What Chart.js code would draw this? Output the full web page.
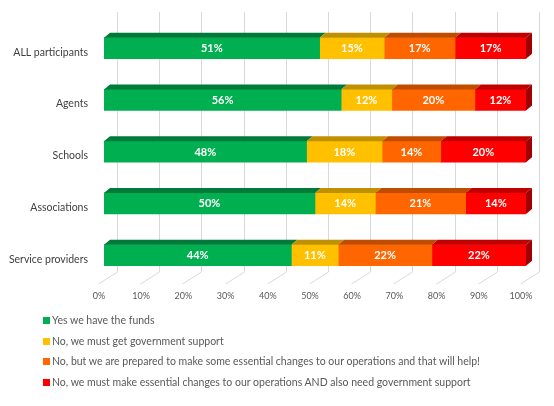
<!DOCTYPE html>
<html>
<head>
<meta charset="utf-8">
<script src="https://cdn.jsdelivr.net/npm/chart.js@4/dist/chart.umd.min.js"></script>
<style>
  html, body { margin: 0; padding: 0; background: #fff; }
  #wrap { position: relative; width: 554px; height: 406px; }
  #legend { position: absolute; left: 43px; top: 310px; font-family: Lato, sans-serif; font-size: 10.5px; color: #595959; }
  #legend div { height: 20.7px; line-height: 20.7px; white-space: nowrap; }
  #legend span { display: inline-block; width: 7px; height: 7px; margin-right: 2px; }
</style>
</head>
<body>
<div id="wrap">
  <canvas id="myChart" width="554" height="406"></canvas>
  <div id="legend"></div>
</div>
<script>
const categories = ["ALL participants", "Agents", "Schools", "Associations", "Service providers"];
const seriesNames = [
    "Yes we have the funds",
    "No, we must get government support",
    "No, but we are prepared to make some essential changes to our operations and that will help!",
    "No, we must make essential changes to our operations AND also need government support"
];
const haveFunds = [51.1, 56.2, 48.0, 50.0, 44.4];
const needSupport = [15.3, 12.0, 17.9, 14.3, 11.1];
const willChange = [16.8, 19.7, 13.9, 21.4, 22.2];
const changeAndSupport = [16.8, 12.1, 20.2, 14.3, 22.3];
const tickValues = [0, 10, 20, 30, 40, 50, 60, 70, 80, 90, 100];

const frontColors = ["#00B050", "#FFC000", "#FF6600", "#FF0000"];
const topColors = ["#007A38", "#BF9000", "#C04C00", "#C00000"];
const sideColor = "#A00000";

(function () {
    let ctx = document.getElementById("myChart").getContext("2d");
    let values = [haveFunds, needSupport, willChange, changeAndSupport];

    let datas = {
        labels: categories,
        datasets: values.map(function (v, i) {
            return {
                label: seriesNames[i],
                data: v,
                backgroundColor: frontColors[i],
                borderWidth: 0,
                barThickness: 21
            };
        })
    };

    // fake 3d: back wall grid, floor, bar faces and tick labels
    let depth = { dx: 6, dy: 5 };
    let threeD = {
        id: "threeD",
        beforeDatasetsDraw(chart) {
            let c = chart.ctx;
            let xs = chart.scales.x;
            c.save();
            c.strokeStyle = "#d9d9d9";
            c.lineWidth = 1;
            tickValues.forEach(function (t) {
                let px = Math.round(xs.getPixelForValue(t)) + 0.5;
                c.beginPath();
                c.moveTo(px + 13, 12);
                c.lineTo(px + 13, 272);
                c.lineTo(px - 6, 284);
                c.stroke();
            });
            c.fillStyle = "#595959";
            c.font = "9px Lato, sans-serif";
            c.textAlign = "center";
            c.textBaseline = "middle";
            tickValues.forEach(function (t) {
                c.fillText(t + "%", xs.getPixelForValue(t) - 5, 296);
            });
            c.restore();
        },
        afterDatasetsDraw(chart) {
            let c = chart.ctx;
            c.save();
            chart.data.datasets.forEach(function (ds, di) {
                let meta = chart.getDatasetMeta(di);
                meta.data.forEach(function (bar, i) {
                    let x1 = bar.base, x2 = bar.x;
                    let top = bar.y - bar.height / 2;
                    let bottom = bar.y + bar.height / 2;
                    c.fillStyle = topColors[di];
                    c.beginPath();
                    c.moveTo(x1, top);
                    c.lineTo(x1 + depth.dx, top - depth.dy);
                    c.lineTo(x2 + depth.dx, top - depth.dy);
                    c.lineTo(x2, top);
                    c.closePath();
                    c.fill();
                    if (di === chart.data.datasets.length - 1) {
                        c.fillStyle = sideColor;
                        c.beginPath();
                        c.moveTo(x2, top);
                        c.lineTo(x2 + depth.dx, top - depth.dy);
                        c.lineTo(x2 + depth.dx, bottom - depth.dy);
                        c.lineTo(x2, bottom);
                        c.closePath();
                        c.fill();
                    }
                    // value label
                    c.fillStyle = "#ffffff";
                    c.font = "bold 11px Lato, sans-serif";
                    c.textAlign = "center";
                    c.textBaseline = "middle";
                    c.fillText(Math.round(ds.data[i]) + "%", (x1 + x2) / 2, bar.y + 0.5);
                });
            });
            c.restore();
        }
    };

    let option = {
        responsive: false,
        animation: false,
        indexAxis: "y",
        layout: {
            padding: { left: 0, right: 28, top: 21, bottom: 105 }
        },
        plugins: {
            legend: { display: false },
            tooltip: { enabled: false }
        },
        scales: {
            x: {
                stacked: true,
                min: 0,
                max: 100,
                grid: { display: false },
                border: { display: false },
                afterFit: function (scale) { scale.height = 20; },
                ticks: { display: false, stepSize: 10 }
            },
            y: {
                stacked: true,
                grid: { display: false, drawTicks: false },
                border: { display: false },
                afterFit: function (scale) { scale.width = 104; },
                ticks: {
                    padding: 16,
                    labelOffset: 4,
                    color: "#404040",
                    font: { family: "Lato, sans-serif", size: 10.5 }
                }
            }
        }
    };

    let myChart = new Chart(ctx, {
        type: "bar",
        data: datas,
        options: option,
        plugins: [threeD]
    });

    let legend = document.getElementById("legend");
    seriesNames.forEach(function (name, i) {
        let row = document.createElement("div");
        let box = document.createElement("span");
        box.style.background = frontColors[i];
        row.appendChild(box);
        row.appendChild(document.createTextNode(name));
        legend.appendChild(row);
    });
})();
</script>
</body>
</html>
